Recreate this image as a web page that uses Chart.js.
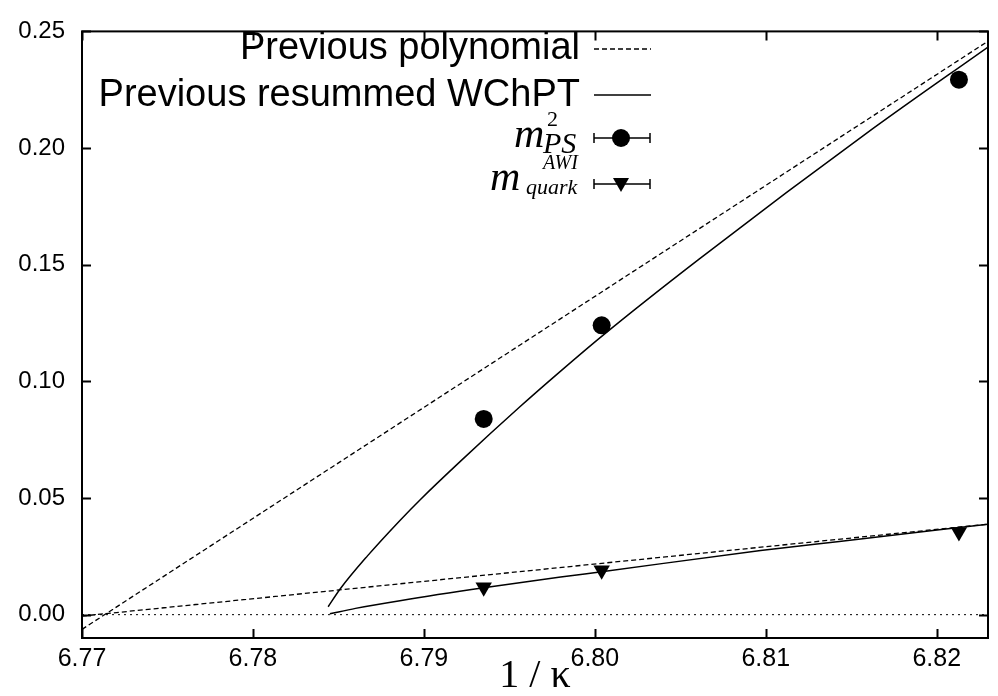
<!DOCTYPE html>
<html>
<head>
<meta charset="utf-8">
<script src="https://cdn.jsdelivr.net/npm/chart.js@4.4.0/dist/chart.umd.min.js"></script>
<style>
html, body { margin: 0; padding: 0; background: #fff; }
#wrap { width: 998px; height: 696px; }
</style>
</head>
<body>
<div id="wrap"><canvas id="chart" width="998" height="696"></canvas></div>
<script>
// measured points
const invKappa = [6.7935, 6.8004, 6.8213];
const mPS2 = [0.0839, 0.1240, 0.2293];
const mPS2Err = [0.0030, 0.0012, 0.0012];
const mQuark = [0.0118, 0.0190, 0.0354];
const mQuarkErr = [0.0006, 0.0006, 0.0006];

// previous fits
const polyPsX = [6.77, 6.823];
const polyPsY = [-0.0063, 0.2458];
const polyQX = [6.77, 6.823];
const polyQY = [-0.0006, 0.0388];
const wchptPsX = [6.7844, 6.7851, 6.7867, 6.7886, 6.7898, 6.7921, 6.7956, 6.7980, 6.8004, 6.8061, 6.8163, 6.8230];
const wchptPsY = [0.0034, 0.0110, 0.0252, 0.0404, 0.0494, 0.0655, 0.0890, 0.1044, 0.1193, 0.1524, 0.2085, 0.2433];
const wchptQX = [6.7845, 6.7860, 6.7886, 6.7935, 6.7980, 6.8004, 6.8097, 6.8143, 6.8230];
const wchptQY = [0.0004, 0.0027, 0.0060, 0.0115, 0.0161, 0.0184, 0.0275, 0.0314, 0.0388];
const zeroX = [6.77, 6.823];
const zeroY = [0, 0];

const xTicks = [6.77, 6.78, 6.79, 6.80, 6.81, 6.82];
const yTicks = [0.00, 0.05, 0.10, 0.15, 0.20, 0.25];

const pts = (xs, ys) => xs.map((x, i) => ({ x, y: ys[i] }));
const line = (data, dash, width) => ({
    data, showLine: true, borderColor: "#000", borderWidth: width, borderDash: dash,
    pointRadius: 0, fill: false, cubicInterpolationMode: "monotone"
});

// error bars on the data points + the frame with inward ticks
const framePlugin = {
    id: "frame",
    afterDatasetsDraw(chart) {
        const { ctx, chartArea: a, scales: { x, y } } = chart;
        ctx.save();
        ctx.strokeStyle = "#000";
        ctx.lineWidth = 1.5;
        [[mPS2, mPS2Err], [mQuark, mQuarkErr]].forEach(([vals, errs]) => {
            vals.forEach((v, i) => {
                const px = x.getPixelForValue(invKappa[i]);
                ctx.beginPath();
                ctx.moveTo(px, y.getPixelForValue(v - errs[i]));
                ctx.lineTo(px, y.getPixelForValue(v + errs[i]));
                ctx.stroke();
            });
        });
        ctx.lineWidth = 2;
        ctx.strokeRect(a.left, a.top, a.right - a.left, a.bottom - a.top);
        const len = 9;
        ctx.beginPath();
        xTicks.forEach(v => {
            const px = Math.round(x.getPixelForValue(v)) + 0.5;
            ctx.moveTo(px, a.bottom); ctx.lineTo(px, a.bottom - len);
            ctx.moveTo(px, a.top); ctx.lineTo(px, a.top + len);
        });
        yTicks.forEach(v => {
            const py = Math.round(y.getPixelForValue(v)) + 0.5;
            ctx.moveTo(a.left, py); ctx.lineTo(a.left + len, py);
            ctx.moveTo(a.right, py); ctx.lineTo(a.right - len, py);
        });
        ctx.stroke();
        ctx.restore();
    }
};

const legendPlugin = {
    id: "keyBox",
    afterDraw(chart) {
        const ctx = chart.ctx;
        ctx.save();
        ctx.fillStyle = "#000";
        ctx.strokeStyle = "#000";
        ctx.font = '38px "Liberation Sans"';
        ctx.textAlign = "right";
        ctx.textBaseline = "alphabetic";
        ctx.fillText("Previous polynomial", 580, 59);
        ctx.fillText("Previous resummed WChPT", 580, 106);

        ctx.lineWidth = 1.3;
        ctx.setLineDash([5, 3]);
        ctx.beginPath(); ctx.moveTo(594, 49); ctx.lineTo(651, 49); ctx.stroke();
        ctx.setLineDash([]);
        ctx.lineWidth = 1.5;
        ctx.beginPath(); ctx.moveTo(594, 95); ctx.lineTo(651, 95); ctx.stroke();

        ctx.textAlign = "left";
        ctx.font = 'italic 42px "Liberation Serif"';
        ctx.fillText("m", 514, 147);
        ctx.fillText("m", 490, 190);
        ctx.font = 'italic 30px "Liberation Serif"';
        ctx.fillText("PS", 543, 153);
        ctx.font = 'italic 22px "Liberation Serif"';
        ctx.fillText("quark", 526, 194);
        ctx.font = 'italic 20px "Liberation Serif"';
        ctx.fillText("AWI", 543, 169);
        ctx.font = '22px "Liberation Serif"';
        ctx.fillText("2", 547, 126);

        // key samples with error-bar whiskers
        [138, 184].forEach(yy => {
            ctx.beginPath();
            ctx.moveTo(594, yy); ctx.lineTo(650, yy);
            ctx.moveTo(594, yy - 5); ctx.lineTo(594, yy + 5);
            ctx.moveTo(650, yy - 5); ctx.lineTo(650, yy + 5);
            ctx.stroke();
        });
        ctx.beginPath(); ctx.arc(621, 138, 9, 0, Math.PI * 2); ctx.fill();
        ctx.beginPath();
        ctx.moveTo(613, 178); ctx.lineTo(629, 178); ctx.lineTo(621, 192); ctx.closePath();
        ctx.fill();
        ctx.restore();
    }
};

new Chart(document.getElementById("chart"), {
    type: "scatter",
    data: {
        datasets: [
            { label: "m_PS^2", data: pts(invKappa, mPS2), pointStyle: "circle", pointRadius: 9, backgroundColor: "#000", borderColor: "#000", borderWidth: 0 },
            { label: "m_quark^AWI", data: pts(invKappa, mQuark), pointStyle: "triangle", rotation: 180, pointRadius: 9.5, backgroundColor: "#000", borderColor: "#000", borderWidth: 0 },
            { label: "Previous polynomial PS", ...line(pts(polyPsX, polyPsY), [5, 3], 1.3) },
            { label: "Previous polynomial quark", ...line(pts(polyQX, polyQY), [5, 3], 1.3) },
            { label: "Previous resummed WChPT PS", ...line(pts(wchptPsX, wchptPsY), [], 1.5) },
            { label: "Previous resummed WChPT quark", ...line(pts(wchptQX, wchptQY), [], 1.5) },
            { label: "zero", ...line(pts(zeroX, zeroY), [2, 4], 1) }
        ]
    },
    options: {
        responsive: false,
        animation: false,
        layout: { padding: { top: 22, right: 10, left: 0, bottom: 0 } },
        plugins: { legend: { display: false }, tooltip: { enabled: false } },
        scales: {
            x: {
                type: "linear", min: 6.77, max: 6.823,
                afterBuildTicks: s => { s.ticks = xTicks.map(v => ({ value: v })); },
                afterFit: s => { s.height = 58; },
                grid: { display: false, drawTicks: false },
                border: { display: false },
                ticks: { color: "#000", padding: 6, maxRotation: 0, font: { family: "Liberation Sans", size: 25 }, callback: v => v.toFixed(2) },
                title: { display: true, text: "1 / κ", color: "#000", padding: 0, font: { family: "Liberation Serif", size: 40, lineHeight: 1 } }
            },
            y: {
                type: "linear", min: -0.01, max: 0.25,
                afterBuildTicks: s => { s.ticks = yTicks.map(v => ({ value: v })); },
                afterFit: s => { s.width = 82; },
                grid: { display: false, drawTicks: false },
                border: { display: false },
                ticks: { color: "#000", padding: 17, font: { family: "Liberation Sans", size: 24 }, callback: v => v.toFixed(2) }
            }
        }
    },
    plugins: [framePlugin, legendPlugin]
});
</script>
</body>
</html>
